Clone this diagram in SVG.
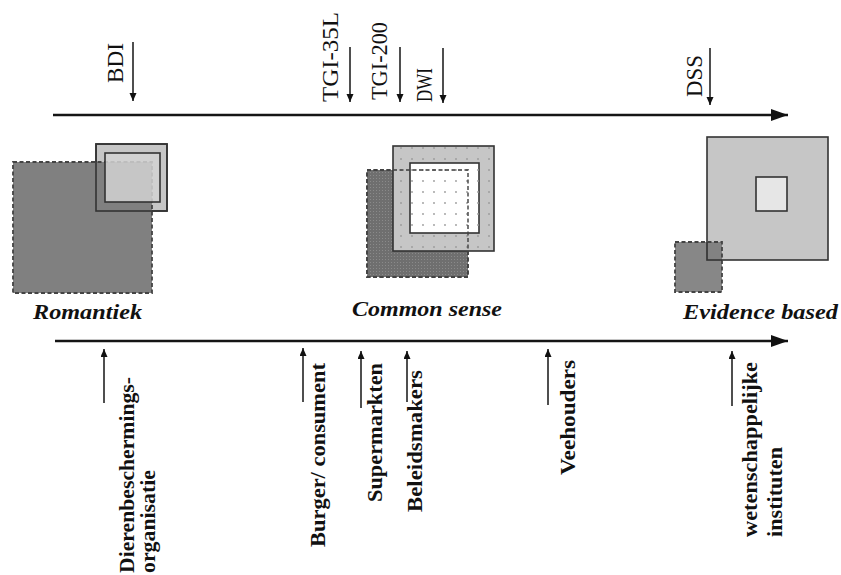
<svg xmlns="http://www.w3.org/2000/svg" width="841" height="575" viewBox="0 0 841 575">
<defs>
<marker id="ah" markerUnits="userSpaceOnUse" markerWidth="8" markerHeight="8" refX="8" refY="3.5" orient="auto"><path d="M0,0 L8,3.5 L0,7 z" fill="#111"/></marker>
<marker id="big" markerUnits="userSpaceOnUse" markerWidth="18" markerHeight="13" refX="17" refY="6" orient="auto"><path d="M0,0 L17,6 L0,12 z" fill="#111"/></marker>
<pattern id="dots" width="11" height="11" patternUnits="userSpaceOnUse"><circle cx="5" cy="5" r="0.9" fill="#9a9a9a"/></pattern>
<pattern id="stip" width="3" height="3" patternUnits="userSpaceOnUse"><rect width="3" height="3" fill="#6f6f6f"/><rect x="1" y="1" width="1" height="1" fill="#8a8a8a"/></pattern>
</defs>
<style>
.ax{stroke:#151515;stroke-width:2.6;fill:none}
.ar{stroke:#151515;stroke-width:1.5;fill:none}
.top{font-family:"Liberation Serif",serif;font-size:24px;fill:#111}
.bot{font-family:"Liberation Serif",serif;font-size:21px;font-weight:bold;fill:#111}
.cap{font-family:"Liberation Serif",serif;font-size:22px;font-weight:bold;font-style:italic;fill:#111}
.frame{stroke:#333;stroke-width:1.6}
.dash{stroke:#444;stroke-width:1.8;stroke-dasharray:4 2.5}
</style>
<rect width="841" height="575" fill="#fff"/>
<g id="connectors">
<line class="ax" x1="53" y1="115" x2="788" y2="115" marker-end="url(#big)"/>
<line class="ax" x1="55" y1="341" x2="788" y2="341" marker-end="url(#big)"/>
<line class="ar" x1="133" y1="42" x2="133" y2="101" marker-end="url(#ah)"/>
<line class="ar" x1="350" y1="47" x2="350" y2="102" marker-end="url(#ah)"/>
<line class="ar" x1="400" y1="47" x2="400" y2="102" marker-end="url(#ah)"/>
<line class="ar" x1="443" y1="48" x2="443" y2="103" marker-end="url(#ah)"/>
<line class="ar" x1="710" y1="48" x2="710" y2="105" marker-end="url(#ah)"/>
<line class="ar" x1="104" y1="403" x2="104" y2="349" marker-end="url(#ah)"/>
<line class="ar" x1="303" y1="402" x2="303" y2="348" marker-end="url(#ah)"/>
<line class="ar" x1="361" y1="408" x2="361" y2="351" marker-end="url(#ah)"/>
<line class="ar" x1="407" y1="402" x2="407" y2="351" marker-end="url(#ah)"/>
<line class="ar" x1="548" y1="405" x2="548" y2="349" marker-end="url(#ah)"/>
<line class="ar" x1="732" y1="406" x2="732" y2="351" marker-end="url(#ah)"/>
</g>
<g id="top-labels">
<text class="top" transform="translate(123,83) rotate(-90)" textLength="40" lengthAdjust="spacingAndGlyphs">BDI</text>
<text class="top" transform="translate(338,102) rotate(-90)" textLength="90" lengthAdjust="spacingAndGlyphs">TGI-35L</text>
<text class="top" transform="translate(387,100) rotate(-90)" textLength="78" lengthAdjust="spacingAndGlyphs">TGI-200</text>
<text class="top" transform="translate(432,102) rotate(-90)" textLength="34" lengthAdjust="spacingAndGlyphs">DWI</text>
<text class="top" transform="translate(702,97) rotate(-90)" textLength="42" lengthAdjust="spacingAndGlyphs">DSS</text>
</g>
<g id="romantiek">
<rect class="frame" x="96" y="144" width="71" height="67" fill="#c6c6c6"/>
<rect class="dash" x="13" y="162" width="139" height="131" fill="#808080"/>
<rect class="frame" x="96" y="144" width="71" height="67" fill="none"/>
<rect class="frame" x="105" y="153" width="55" height="49" fill="#d2d2d2" fill-opacity="0.85"/>
<text class="cap" x="33" y="319" textLength="109" lengthAdjust="spacingAndGlyphs">Romantiek</text>
</g>
<g id="common-sense">
<rect class="dash" x="367" y="170" width="101" height="107" fill="url(#stip)"/>
<rect class="frame" x="393" y="146" width="101" height="105" fill="#c6c6c6"/>
<rect x="393" y="146" width="101" height="105" fill="url(#dots)"/>
<rect class="frame" x="410" y="163" width="69" height="70" fill="#fff"/>
<rect x="410" y="163" width="69" height="70" fill="url(#dots)"/>
<rect class="dash" x="367" y="170" width="101" height="107" fill="none" stroke-opacity="0.8"/>
<text class="cap" x="352" y="316" textLength="150" lengthAdjust="spacingAndGlyphs">Common sense</text>
</g>
<g id="evidence-based">
<rect class="frame" x="707" y="137" width="121" height="123" fill="#c6c6c6"/>
<rect class="frame" x="756" y="177" width="31" height="34" fill="#e6e6e6"/>
<rect class="dash" x="675" y="242" width="47" height="50" fill="#7a7a7a" fill-opacity="0.9"/>
<path class="frame" d="M707,242 V260 H722" fill="none"/>
<text class="cap" x="683" y="319" textLength="155" lengthAdjust="spacingAndGlyphs">Evidence based</text>
</g>
<g id="bottom-labels">
<text class="bot" transform="translate(134,573) rotate(-90)" textLength="196" lengthAdjust="spacingAndGlyphs">Dierenbeschermings-</text>
<text class="bot" transform="translate(155,573) rotate(-90)" textLength="103" lengthAdjust="spacingAndGlyphs">organisatie</text>
<text class="bot" transform="translate(325,547) rotate(-90)" textLength="184" lengthAdjust="spacingAndGlyphs">Burger/ consument</text>
<text class="bot" transform="translate(382,502) rotate(-90)" textLength="139" lengthAdjust="spacingAndGlyphs">Supermarkten</text>
<text class="bot" transform="translate(422,512) rotate(-90)" textLength="142" lengthAdjust="spacingAndGlyphs">Beleidsmakers</text>
<text class="bot" transform="translate(575,475) rotate(-90)" textLength="115" lengthAdjust="spacingAndGlyphs">Veehouders</text>
<text class="bot" transform="translate(757,537) rotate(-90)" textLength="175" lengthAdjust="spacingAndGlyphs">wetenschappelijke</text>
<text class="bot" transform="translate(782,537) rotate(-90)" textLength="90" lengthAdjust="spacingAndGlyphs">instituten</text>
</g>
</svg>
